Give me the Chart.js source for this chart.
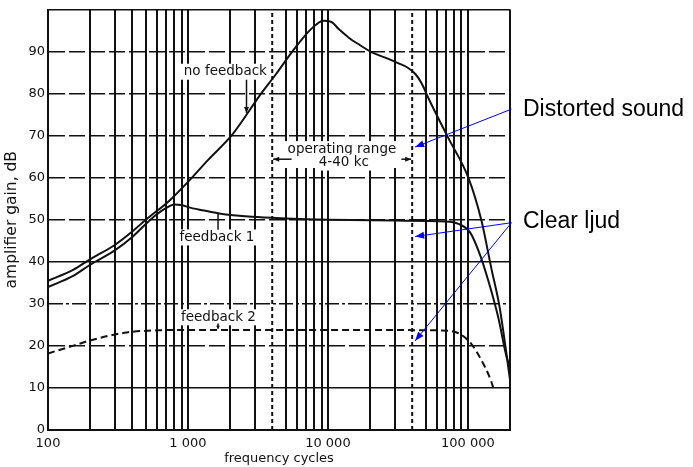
<!DOCTYPE html>
<html>
<head>
<meta charset="utf-8">
<script src="https://cdn.jsdelivr.net/npm/chart.js@4.4.1/dist/chart.umd.min.js"></script>
<style>
  html, body { margin: 0; padding: 0; background: #fff; }
  #wrap { width: 693px; height: 467px; }
</style>
</head>
<body>
<div id="wrap"><canvas id="chart" width="693" height="467"></canvas></div>
<script>
// axis ticks
const xLabelTicks = [100, 1000, 10000, 100000];
const yTicks = [0, 10, 20, 30, 40, 50, 60, 70, 80, 90, 100];
const rangeBounds = [4000, 40000];

// no feedback
const noFbFreq = [100, 150, 200, 300, 400, 500, 740, 1000, 1400, 2080, 3330, 4250, 5560, 7300, 8300, 9300, 10500, 12000, 14100, 17000, 20600, 26000, 32000, 37000, 42300, 47000, 52300, 72600, 100800, 125000, 147000, 169000, 200000];
const noFbGain = [35.5, 38, 40.6, 44, 47.2, 50, 54.6, 59, 64.3, 70.3, 80, 84.6, 90, 94.8, 96.5, 97.3, 97.1, 95.3, 93.3, 91.5, 89.8, 88.5, 87.2, 86.2, 84.6, 82.3, 78.9, 69.4, 60, 49.8, 38.5, 29, 12];

// feedback 1
const fb1Freq = [100, 150, 200, 300, 400, 500, 600, 700, 800, 900, 1000, 1300, 1670, 2860, 5000, 10000, 30000, 70000, 85600, 103700, 118800, 140000, 164800, 189000, 200000];
const fb1Gain = [34, 36.6, 39.3, 42.7, 45.9, 49, 51.3, 52.8, 53.6, 53.5, 53, 52.2, 51.5, 50.7, 50.3, 50, 49.8, 49.6, 49, 47, 42.7, 35.5, 26.8, 17.4, 15];

// feedback 2
const fb2Freq = [100, 150, 200, 365, 600, 1000, 10000, 61000, 85600, 105000, 125000, 146000, 152000];
const fb2Gain = [18.2, 20, 21.3, 23.2, 23.7, 23.8, 23.8, 23.7, 23, 20.6, 16.6, 11.8, 10];

// log grid: 1..9 in each decade, up to the right edge
const xGrid = [];
for (let d = 100; d <= 100000; d *= 10) {
  for (let m = 1; m <= 9; m++) {
    if (d * m <= 200000) xGrid.push(d * m);
  }
}

const yDash = {20: [16, 4], 30: [14, 3, 3, 3], 50: [16, 4], 60: [16, 4], 70: [16, 4], 80: [16, 4], 90: [16, 4]};

function pts(xs, ys) {
  return xs.map((v, i) => ({x: v, y: ys[i]}));
}

function fmt(v) {
  return String(v).replace(/\B(?=(\d{3})+(?!\d))/g, ' ');
}

const noteFont = '13.5px "DejaVu Sans"';

function arrow(ctx, x1, y1, x2, y2, len, half) {
  ctx.beginPath();
  ctx.moveTo(x1, y1);
  ctx.lineTo(x2, y2);
  ctx.stroke();
  const a = Math.atan2(y2 - y1, x2 - x1);
  ctx.beginPath();
  ctx.moveTo(x2, y2);
  ctx.lineTo(x2 - len * Math.cos(a) + half * Math.sin(a), y2 - len * Math.sin(a) - half * Math.cos(a));
  ctx.lineTo(x2 - len * Math.cos(a) - half * Math.sin(a), y2 - len * Math.sin(a) + half * Math.cos(a));
  ctx.closePath();
  ctx.fill();
}

// in-chart labels (data coordinates)
const notes = [
  {text: 'no feedback', x: 1850, y: 85.2},
  {text: 'feedback 1', x: 1610, y: 45.8},
  {text: 'feedback 2', x: 1650, y: 26.8},
  {text: 'operating range', x: 12600, y: 66.6},
  {text: '4-40 kc', x: 13000, y: 63.6}
];

const notesPlugin = {
  id: 'notes',
  beforeDatasetsDraw(chart) {
    const {ctx, scales: {x, y}} = chart;
    ctx.save();
    ctx.font = noteFont;
    ctx.textAlign = 'center';
    ctx.textBaseline = 'middle';

    // white patch under operating range label
    ctx.fillStyle = '#fff';
    ctx.fillRect(x.getPixelForValue(4000) + 3, y.getPixelForValue(68.7), x.getPixelForValue(40000) - x.getPixelForValue(4000) - 6, y.getPixelForValue(62.3) - y.getPixelForValue(68.7));

    notes.forEach(n => {
      const px = x.getPixelForValue(n.x), py = y.getPixelForValue(n.y);
      const w = ctx.measureText(n.text).width;
      ctx.fillStyle = '#fff';
      ctx.fillRect(px - w / 2 - 3, py - 8, w + 6, 16);
      ctx.fillStyle = '#111';
      ctx.fillText(n.text, px, py);
    });

    ctx.strokeStyle = '#111';
    ctx.fillStyle = '#111';
    ctx.lineWidth = 1.5;
    // pointers to the curves
    arrow(ctx, x.getPixelForValue(2620), y.getPixelForValue(83.3), x.getPixelForValue(2620), y.getPixelForValue(75.4), 6, 2.5);
    ctx.beginPath();
    ctx.moveTo(x.getPixelForValue(1640), y.getPixelForValue(51.6));
    ctx.lineTo(x.getPixelForValue(1640), y.getPixelForValue(47.6));
    ctx.stroke();
    arrow(ctx, x.getPixelForValue(1640), y.getPixelForValue(25.3), x.getPixelForValue(1640), y.getPixelForValue(24.1), 3, 2);

    // operating range arrows
    const ay = y.getPixelForValue(64.4);
    arrow(ctx, x.getPixelForValue(5500), ay, x.getPixelForValue(4000) + 1, ay, 6, 2.5);
    arrow(ctx, x.getPixelForValue(33500), ay, x.getPixelForValue(40000) - 1, ay, 6, 2.5);
    ctx.restore();
  },
  afterDraw(chart) {
    const {ctx, chartArea, scales: {x, y}} = chart;
    ctx.save();
    ctx.strokeStyle = '#0000ff';
    ctx.fillStyle = '#0000ff';
    ctx.lineWidth = 1;
    const sx = x.getPixelForValue(205000);
    arrow(ctx, sx, y.getPixelForValue(76.3), x.getPixelForValue(42000), y.getPixelForValue(67.3), 9, 3.5);
    arrow(ctx, sx, y.getPixelForValue(49.3), x.getPixelForValue(42000), y.getPixelForValue(46), 9, 3.5);
    arrow(ctx, sx, y.getPixelForValue(49.3), x.getPixelForValue(42000), y.getPixelForValue(21.2), 9, 3.5);

    ctx.fillStyle = '#000';
    ctx.font = '23px "Liberation Sans"';
    ctx.textAlign = 'left';
    ctx.textBaseline = 'middle';
    ctx.fillText('Distorted sound', chartArea.right + 13, y.getPixelForValue(76.3));
    ctx.fillText('Clear ljud', chartArea.right + 13, y.getPixelForValue(49.6));
    ctx.restore();
  }
};

const curve = {borderColor: '#111', borderWidth: 2, pointRadius: 0, fill: false, cubicInterpolationMode: 'monotone'};

new Chart(document.getElementById('chart'), {
  type: 'line',
  data: {
    datasets: [
      Object.assign({label: 'no feedback', data: pts(noFbFreq, noFbGain)}, curve),
      Object.assign({label: 'feedback 1', data: pts(fb1Freq, fb1Gain)}, curve),
      Object.assign({label: 'feedback 2', data: pts(fb2Freq, fb2Gain), borderDash: [7, 4]}, curve),
      {label: 'low', data: [{x: rangeBounds[0], y: 0}, {x: rangeBounds[0], y: 100}], borderColor: '#111', borderWidth: 2, borderDash: [4, 3], pointRadius: 0},
      {label: 'high', data: [{x: rangeBounds[1], y: 0}, {x: rangeBounds[1], y: 100}], borderColor: '#111', borderWidth: 2, borderDash: [4, 3], pointRadius: 0}
    ]
  },
  options: {
    responsive: false,
    animation: false,
    devicePixelRatio: 1,
    layout: {padding: {top: 0, right: 183, left: 0, bottom: 0}},
    plugins: {legend: {display: false}, tooltip: {enabled: false}},
    scales: {
      x: {
        type: 'logarithmic',
        min: 100,
        max: 200000,
        afterBuildTicks: s => { s.ticks = xGrid.map(v => ({value: v})); },
        afterFit: s => { s.height = 37; },
        grid: {
          color: c => (c.tick && rangeBounds.includes(c.tick.value)) ? 'rgba(0,0,0,0)' : '#111',
          lineWidth: 2,
          drawTicks: false
        },
        border: {color: '#111', width: 2},
        ticks: {
          autoSkip: false,
          maxRotation: 0,
          padding: 6,
          color: '#111',
          font: {family: 'DejaVu Sans', size: 13},
          callback: v => xLabelTicks.includes(v) ? fmt(v) : ''
        },
        title: {display: true, text: 'frequency cycles', color: '#111', font: {family: 'DejaVu Sans', size: 13}, padding: {top: 0, bottom: 1}}
      },
      y: {
        min: 0,
        max: 100,
        afterBuildTicks: s => { s.ticks = yTicks.map(v => ({value: v})); },
        afterFit: s => { s.width = 48; },
        grid: {color: '#111', lineWidth: 1.5, drawTicks: false},
        border: {color: '#111', width: 2, dash: c => (c.tick && yDash[c.tick.value]) || []},
        ticks: {
          padding: 3,
          color: '#111',
          font: {family: 'DejaVu Sans', size: 13, lineHeight: 1},
          callback: v => v === 100 ? '' : v
        },
        title: {display: true, text: 'amplifier gain, dB', color: '#111', font: {family: 'DejaVu Sans', size: 15.5}, padding: {top: 3, bottom: 0}}
      }
    }
  },
  plugins: [notesPlugin]
});
</script>
</body>
</html>
